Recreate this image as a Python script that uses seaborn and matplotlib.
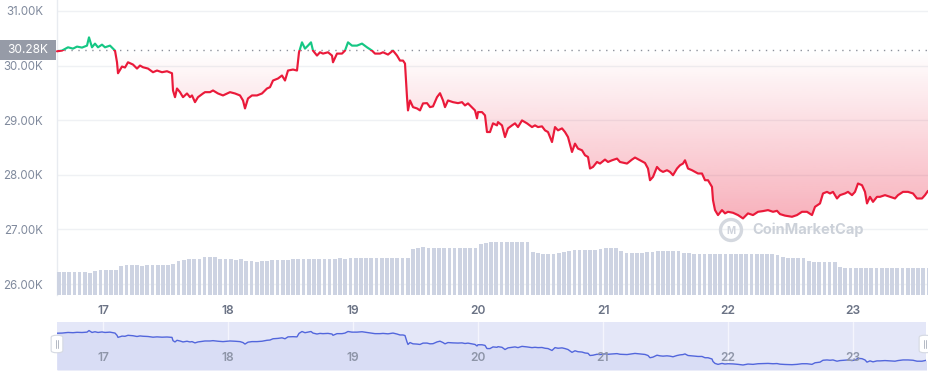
import numpy as np
import matplotlib
matplotlib.use("Agg")
import matplotlib.pyplot as plt
import seaborn as sns
from matplotlib.patches import Rectangle, FancyBboxPatch, Ellipse

# ---------------- data ----------------
price_day = [
    16.632, 16.672, 16.720, 16.760, 16.792, 16.832, 16.872, 16.888, 16.912, 16.936,
    16.960, 16.992, 17.016, 17.056, 17.096, 17.112, 17.120, 17.152, 17.176, 17.200,
    17.240, 17.272, 17.296, 17.320, 17.360, 17.400, 17.432, 17.472, 17.512, 17.552,
    17.560, 17.576, 17.592, 17.616, 17.640, 17.672, 17.696, 17.712, 17.736, 17.760,
    17.800, 17.816, 17.856, 17.880, 17.920, 17.960, 18.016, 18.056, 18.096, 18.120,
    18.136, 18.160, 18.192, 18.232, 18.272, 18.312, 18.336, 18.360, 18.400, 18.432,
    18.456, 18.480, 18.520, 18.552, 18.568, 18.592, 18.616, 18.640, 18.664, 18.680,
    18.712, 18.736, 18.760, 18.800, 18.832, 18.840, 18.872, 18.912, 18.936, 18.960,
    18.992, 19.032, 19.072, 19.112, 19.152, 19.176, 19.216, 19.240, 19.280, 19.320,
    19.352, 19.376, 19.400, 19.416, 19.432, 19.440, 19.456, 19.480, 19.512, 19.536,
    19.560, 19.592, 19.616, 19.640, 19.672, 19.696, 19.720, 19.736, 19.760, 19.800,
    19.840, 19.872, 19.896, 19.920, 19.952, 19.976, 19.992, 20.000, 20.032, 20.056,
    20.072, 20.096, 20.120, 20.152, 20.160, 20.192, 20.216, 20.240, 20.272, 20.296,
    20.320, 20.352, 20.392, 20.432, 20.456, 20.480, 20.512, 20.536, 20.560, 20.592,
    20.616, 20.640, 20.672, 20.696, 20.720, 20.752, 20.776, 20.800, 20.832, 20.856,
    20.880, 20.896, 20.920, 20.952, 20.976, 21.016, 21.040, 21.072, 21.112, 21.136,
    21.192, 21.232, 21.256, 21.296, 21.336, 21.360, 21.376, 21.400, 21.432, 21.456,
    21.480, 21.512, 21.536, 21.560, 21.592, 21.616, 21.640, 21.656, 21.680, 21.712,
    21.736, 21.760, 21.792, 21.816, 21.840, 21.872, 21.880, 21.896, 21.920, 21.952,
    21.976, 22.000, 22.040, 22.080, 22.120, 22.160, 22.200, 22.240, 22.280, 22.320,
    22.360, 22.392, 22.416, 22.456, 22.512, 22.552, 22.592, 22.632, 22.672, 22.696,
    22.736, 22.760, 22.792, 22.816, 22.840, 22.872, 22.896, 22.936, 22.960, 22.992,
    23.016, 23.040, 23.072, 23.096, 23.112, 23.136, 23.160, 23.192, 23.216, 23.256,
    23.296, 23.336, 23.360, 23.400, 23.440, 23.480, 23.512, 23.552, 23.576, 23.600,
]
price_usd = [
    30261, 30274, 30334, 30310, 30347, 30329, 30365, 30516, 30334, 30402,
    30334, 30383, 30334, 30365, 30274, 30060, 29859, 29982, 29964, 30060,
    30018, 29945, 30000, 29969, 29945, 29878, 29909, 29878, 29896, 29859,
    29544, 29421, 29580, 29513, 29421, 29489, 29421, 29453, 29330, 29421,
    29489, 29513, 29513, 29544, 29489, 29453, 29513, 29489, 29453, 29361,
    29215, 29398, 29453, 29453, 29489, 29580, 29604, 29726, 29763, 29818,
    29726, 29909, 29927, 29909, 30243, 30425, 30310, 30365, 30425, 30274,
    30183, 30243, 30219, 30243, 30183, 30060, 30219, 30219, 30274, 30425,
    30365, 30365, 30402, 30334, 30274, 30219, 30219, 30243, 30201, 30274,
    30183, 30091, 30091, 30037, 29421, 29179, 29361, 29239, 29215, 29179,
    29307, 29312, 29239, 29252, 29421, 29494, 29361, 29239, 29361, 29330,
    29312, 29330, 29270, 29307, 29234, 29179, 29033, 29148, 29148, 29088,
    28783, 28783, 28942, 28905, 28965, 28905, 28691, 28850, 28905, 28942,
    28874, 28996, 28942, 28874, 28905, 28874, 28887, 28814, 28783, 28600,
    28874, 28814, 28850, 28783, 28691, 28418, 28571, 28480, 28449, 28358,
    28327, 28115, 28144, 28235, 28206, 28279, 28235, 28266, 28297, 28235,
    28206, 28279, 28316, 28266, 28217, 28115, 27901, 27962, 28144, 28084,
    28053, 28084, 28053, 27993, 28115, 28175, 28206, 28266, 28115, 28084,
    28053, 28024, 28024, 27901, 27901, 27779, 27536, 27354, 27263, 27354,
    27294, 27323, 27305, 27263, 27202, 27294, 27263, 27323, 27336, 27354,
    27323, 27341, 27281, 27253, 27232, 27263, 27323, 27323, 27263, 27414,
    27476, 27659, 27688, 27659, 27688, 27567, 27628, 27659, 27688, 27628,
    27688, 27841, 27810, 27688, 27476, 27597, 27505, 27597, 27597, 27628,
    27597, 27567, 27628, 27688, 27688, 27659, 27567, 27567, 27628, 27706,
]
baseline_price = 30280
baseline_label = "30.28K"

vol_start_day = 16.646          # first hourly volume bar
volume_bn = [
    11.5, 11.6, 11.4, 11.5, 11.3, 11.4,
    11.0,
    12.2, 12.3, 12.4, 12.3, 12.3,
    14.5, 14.8, 14.9, 14.8, 14.7, 14.8, 14.9, 15.0, 14.8, 14.9,
    15.6,
    17.0, 17.6, 17.8, 18.0, 18.2,
    19.0, 19.2, 18.8,
    17.9, 17.8, 17.8, 17.7, 17.8,
    16.8, 16.9, 16.7, 16.8, 16.8,
    17.3, 17.5, 17.6, 17.7, 17.8, 17.8, 17.9, 17.8, 17.9, 18.0,
    18.1, 18.2, 18.2, 18.3, 18.2, 18.3, 18.3, 18.4, 18.3, 18.4, 18.4, 18.5, 18.4, 18.5, 18.5, 18.6, 18.6,
    23.0, 23.6, 23.8, 23.5, 23.4, 23.4, 23.5, 23.4, 23.5, 23.6, 23.5, 23.6, 23.7,
    25.5, 26.0, 26.3, 26.5, 26.6, 26.6, 26.7, 26.6, 26.6, 26.4,
    21.5, 20.8, 20.6, 20.5, 20.6, 21.0, 21.5, 22.0, 22.3,
    22.5, 22.6, 22.5, 22.7, 23.0,
    23.5, 23.6, 23.4,
    21.8, 21.2, 21.2, 21.1, 21.2, 21.3, 21.4,
    21.9, 22.0, 22.1, 22.0, 21.9,
    21.0, 20.8, 20.7, 20.7, 20.6, 20.6, 20.7, 20.6, 20.6, 20.6, 20.7, 20.6, 20.6, 20.6, 20.5, 20.6, 20.5, 20.4, 20.2,
    19.0, 18.6, 18.5, 18.4, 18.3,
    17.0, 16.6, 16.5, 16.5, 16.4, 16.3,
    14.0, 13.6, 13.5, 13.5, 13.5, 13.6, 13.5, 13.5, 13.6, 13.5, 13.4, 13.5, 13.6, 13.5, 13.6, 13.7, 13.6, 13.7,
]

day_ticks = [17, 18, 19, 20, 21, 22, 23]
day_labels = ["17", "18", "19", "20", "21", "22", "23"]
price_ticks = [26000, 27000, 28000, 29000, 30000, 31000]
price_tick_labels = ["26.00K", "27.00K", "28.00K", "29.00K", "30.00K", "31.00K"]

# ---------------- styling ----------------
sns.set_style("white")
plt.rcParams["font.family"] = ["Inter", "DejaVu Sans"]

RED = "#ea1a3a"
GREEN = "#16c784"
GREY_TXT = "#808a9d"
BAR = "#cdd3e2"
NAV_BAND = "#e4e7f8"
NAV_FILL = "#d9ddf5"
NAV_LINE = "#5266dc"

W, H = 929, 374
fig = plt.figure(figsize=(W / 100, H / 100), dpi=100)
fig.patch.set_facecolor("white")

def rect(x0, y0, x1, y1):
    return [x0 / W, 1 - y1 / H, (x1 - x0) / W, (y1 - y0) / H]

xmin, xmax = 16.632, 23.608
ylo, yhi = 25800, 31200

day = np.array(price_day)
usd = np.array(price_usd, dtype=float)

# ---- main price axes ----
ax = fig.add_axes(rect(57, 0, 929, 295))
ax.set_zorder(1)
ax.set_facecolor("white")

# gradient fill below baseline
fb = ax.fill_between(day, np.minimum(usd, baseline_price), baseline_price,
                     facecolor="none", edgecolor="none", linewidth=0)
clip_path = fb.get_paths()[0]
n = 256
grad = np.zeros((n, 1, 4))
rgb = matplotlib.colors.to_rgb(RED)
grad[:, 0, 0], grad[:, 0, 1], grad[:, 0, 2] = rgb
yy = np.linspace(26900, baseline_price, n)
grad[:, 0, 3] = np.clip(0.34 * (baseline_price - yy) / (baseline_price - 27200), 0, 0.36)
im = ax.imshow(grad, extent=[xmin, xmax, 26900, baseline_price], origin="lower",
               aspect="auto", zorder=1, interpolation="bilinear")
im.set_clip_path(clip_path, ax.transData)

sns.lineplot(x=day, y=usd, ax=ax, color=RED, linewidth=1.55, sort=False, zorder=3)
red_line = ax.lines[-1]
sns.lineplot(x=day, y=usd, ax=ax, color=GREEN, linewidth=1.55, sort=False, zorder=3)
green_line = ax.lines[-1]
red_line.set_clip_path(Rectangle((xmin - 1, ylo - 5000), xmax - xmin + 2,
                                 baseline_price - ylo + 5000, transform=ax.transData))
green_line.set_clip_path(Rectangle((xmin - 1, baseline_price), xmax - xmin + 2,
                                   10000, transform=ax.transData))

ax.axhline(baseline_price, color="#8d929c", linestyle=(0, (1, 4)), linewidth=1, zorder=2)

ax.set_xlim(xmin, xmax)
ax.set_ylim(ylo, yhi)
ax.set_yticks(price_ticks)
ax.set_yticklabels(price_tick_labels)
ax.set_xticks(day_ticks)
ax.set_xticklabels(day_labels)
ax.yaxis.grid(True, color="#eff1f4", linewidth=1, zorder=0)
ax.xaxis.grid(False)
ax.set_axisbelow(True)
ax.tick_params(axis="y", length=0, pad=10, labelsize=8.3, labelcolor=GREY_TXT)
ax.tick_params(axis="x", length=3.5, width=1, color="#aeb4c0", pad=4,
               labelsize=8.6, labelcolor="#6b7385")
for lbl in ax.get_xticklabels():
    lbl.set_fontweight("semibold")
for s in ["top", "right", "bottom"]:
    ax.spines[s].set_visible(False)
ax.spines["left"].set_color("#e8ebf0")
ax.spines["left"].set_linewidth(1)
ax.set_xlabel("")
ax.set_ylabel("")

# ---- volume axes ----
axv = fig.add_axes(rect(57, 0, 929, 295))
axv.set_zorder(2)
axv.patch.set_alpha(0)
vol_day = vol_start_day + np.arange(len(volume_bn)) / 24
axv.bar(vol_day, volume_bn, width=0.72 / 24, color=BAR, linewidth=0)
axv.set_xlim(xmin, xmax)
axv.set_ylim(0, 147.5)
axv.axis("off")

# ---- baseline label box ----
fig.patches.append(Rectangle((0, 1 - 60 / H), 56 / W, 20 / H, transform=fig.transFigure,
                             facecolor="#969ba7", edgecolor="none"))
fig.text(28 / W, 1 - 50 / H, baseline_label, color="white", fontsize=8.6,
         ha="center", va="center")

# ---- watermark ----
fig.patches.append(Ellipse((731 / W, 1 - 230 / H), 21 / W, 21 / H, transform=fig.transFigure,
                           facecolor="none", edgecolor="#d4d8df", linewidth=2.4, zorder=4))
fig.text(731 / W, 1 - 230.5 / H, "M", color="#d0d4dc", fontsize=7,
         fontweight="bold", ha="center", va="center", zorder=4)
fig.text(752 / W, 1 - 230 / H, "CoinMarketCap", color="#ccd1d9", fontsize=10.5,
         fontweight="bold", ha="left", va="center", zorder=4)

# ---- navigator ----
axn = fig.add_axes(rect(57, 322, 926, 370))
axn.set_facecolor(NAV_BAND)
nav_lo, nav_hi = 26720, 31340
axn.fill_between(day, usd, nav_lo, color=NAV_FILL, linewidth=0)
sns.lineplot(x=day, y=usd, ax=axn, color=NAV_LINE, linewidth=1.0, sort=False)
for d in day_ticks:
    axn.axvline(d, color="#f4f5fd", linewidth=1, zorder=0.5)
axn.set_xlim(16.632, 23.584)
axn.set_ylim(nav_lo, nav_hi)
axn.set_xticks([])
axn.set_yticks([])
axn.set_xlabel("")
axn.set_ylabel("")
for s in axn.spines.values():
    s.set_visible(False)
for d, lab in zip(day_ticks, day_labels):
    axn.text(d, 0.25, lab, transform=axn.get_xaxis_transform(), ha="center",
             va="center", fontsize=8.6, color="#8e95a8", fontweight="semibold")

# handles
for cx in (57, 925):
    fig.patches.append(FancyBboxPatch(((cx - 4) / W, 1 - 352 / H), 8 / W, 16 / H,
                                      boxstyle="round,pad=0.002,rounding_size=0.006",
                                      transform=fig.transFigure, facecolor="white",
                                      edgecolor="#d5d9e2", linewidth=0.8, zorder=5))
    for dx in (-1.2, 1.2):
        fig.lines.append(plt.Line2D([(cx + dx) / W] * 2, [1 - 348 / H, 1 - 340 / H],
                                    transform=fig.transFigure, color="#b4b9c4",
                                    linewidth=0.7, zorder=6))

fig.savefig("out.png", dpi=100, facecolor="white")
